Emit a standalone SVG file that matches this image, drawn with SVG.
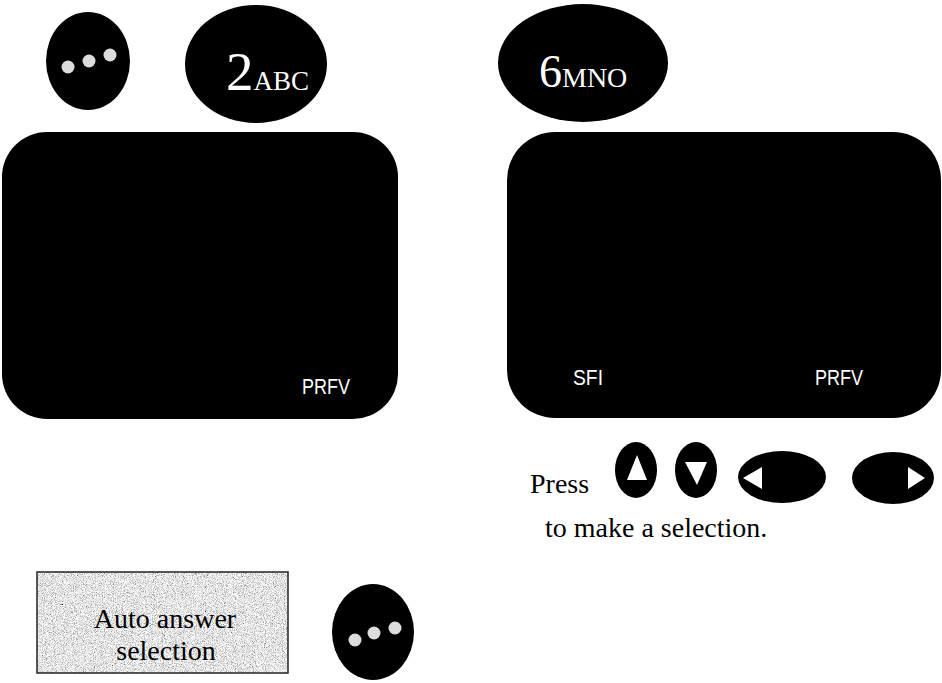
<svg xmlns="http://www.w3.org/2000/svg" width="942" height="683" viewBox="0 0 942 683">
  <defs>
    <style>
      .blk { fill: #000; }
      .dot { fill: #dcdcdc; }
      .key { font-family: "Liberation Serif", "Times New Roman", serif; fill: #fff; }
      .lcd { font-family: "Liberation Sans", Arial, sans-serif; fill: #fff; font-size: 22px; }
      .body { font-family: "Liberation Serif", "Times New Roman", serif; fill: #000; font-size: 28px; }
      .tri { fill: #fff; }
    </style>
    <filter id="grain" x="0" y="0" width="100%" height="100%">
      <feTurbulence type="fractalNoise" baseFrequency="1.1" numOctaves="3" seed="7" result="n"/>
      <feColorMatrix in="n" type="saturate" values="0" result="g"/>
      <feComponentTransfer in="g" result="c">
        <feFuncR type="linear" slope="2.2" intercept="-0.32"/>
        <feFuncG type="linear" slope="2.2" intercept="-0.32"/>
        <feFuncB type="linear" slope="2.2" intercept="-0.32"/>
        <feFuncA type="linear" slope="0" intercept="1"/>
      </feComponentTransfer>
      <feComposite in="c" in2="SourceGraphic" operator="in"/>
    </filter>
  </defs>
  <rect width="942" height="683" fill="#fff"/>

  <g id="menu-key-top">
    <ellipse class="blk" cx="88" cy="61" rx="42" ry="49"/>
    <circle class="dot" cx="68" cy="67" r="6.5"/>
    <circle class="dot" cx="89" cy="61" r="6.5"/>
    <circle class="dot" cx="110" cy="55" r="6.5"/>
  </g>

  <g id="key-2abc">
    <ellipse class="blk" cx="256" cy="64" rx="71" ry="59"/>
    <text class="key" x="226" y="90" font-size="55">2<tspan font-size="27">ABC</tspan></text>
  </g>

  <g id="key-6mno">
    <ellipse class="blk" cx="583" cy="63" rx="85" ry="59"/>
    <text class="key" x="539" y="87" font-size="46">6<tspan font-size="28">MNO</tspan></text>
  </g>

  <g id="screen-left">
    <rect class="blk" x="2" y="132" width="396" height="287" rx="45" ry="45"/>
    <text class="lcd" x="302" y="394" textLength="48" lengthAdjust="spacingAndGlyphs">PRFV</text>
  </g>

  <g id="screen-right">
    <rect class="blk" x="507" y="132" width="434" height="286" rx="48" ry="48"/>
    <text class="lcd" x="573" y="385" textLength="30" lengthAdjust="spacingAndGlyphs">SFI</text>
    <text class="lcd" x="815" y="385" textLength="48" lengthAdjust="spacingAndGlyphs">PRFV</text>
  </g>

  <g id="press-row">
    <text class="body" x="530" y="493">Press</text>
    <g id="key-up">
      <ellipse class="blk" cx="636" cy="470" rx="21" ry="28"/>
      <polygon class="tri" points="637,455 647,480 627,480"/>
    </g>
    <g id="key-down">
      <ellipse class="blk" cx="696" cy="470" rx="21" ry="28"/>
      <polygon class="tri" points="685,462 707,462 697,485"/>
    </g>
    <g id="key-left">
      <ellipse class="blk" cx="782" cy="477" rx="44" ry="26"/>
      <polygon class="tri" points="743,478 762,467 762,489"/>
    </g>
    <g id="key-right">
      <ellipse class="blk" cx="893" cy="478" rx="41" ry="26"/>
      <polygon class="tri" points="925,478 908,467 908,489"/>
    </g>
    <text class="body" x="545" y="537">to make a selection.</text>
  </g>

  <g id="auto-answer-box">
    <rect x="37" y="572" width="251" height="101" fill="#cccccc" filter="url(#grain)"/>
    <rect x="37" y="572" width="251" height="101" fill="none" stroke="#222" stroke-width="1.5"/>
    <text class="body" x="165" y="628" text-anchor="middle" font-size="29">Auto answer</text>
    <text class="body" x="166" y="660" text-anchor="middle" font-size="30">selection</text>
  </g>

  <g id="menu-key-bottom">
    <ellipse class="blk" cx="373" cy="632" rx="41" ry="48"/>
    <circle class="dot" cx="355" cy="640" r="6.5"/>
    <circle class="dot" cx="374" cy="633" r="6.5"/>
    <circle class="dot" cx="395" cy="628" r="6.5"/>
  </g>
</svg>
